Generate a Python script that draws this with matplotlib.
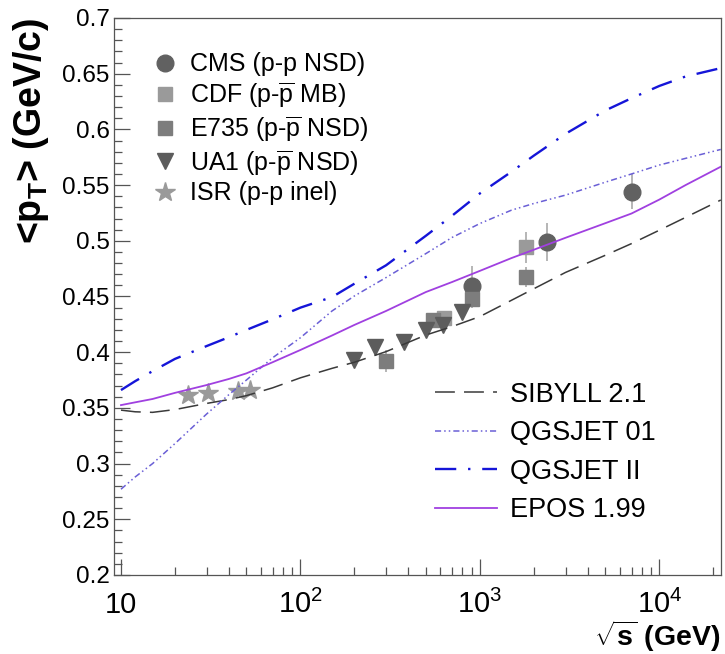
import numpy as np
import matplotlib
matplotlib.use("Agg")
import matplotlib.pyplot as plt
from matplotlib.ticker import FixedLocator, MultipleLocator, NullFormatter

plt.rcParams['font.family'] = ['Liberation Sans', 'DejaVu Sans']
plt.rcParams['mathtext.fontset'] = 'custom'
plt.rcParams['mathtext.rm'] = 'Liberation Sans'
plt.rcParams['mathtext.it'] = 'Liberation Sans:italic'
plt.rcParams['mathtext.bf'] = 'Liberation Sans:bold'
plt.rcParams['mathtext.sf'] = 'Liberation Sans'

# ---- model predictions: <pT> vs sqrt(s) ----
model_sqrt_s = [10, 12, 15, 20, 30, 40, 50, 70, 100, 150, 200, 300, 500, 700,
                1000, 1500, 2000, 3000, 5000, 7000, 10000, 14000, 22000]
sibyll_21 = [0.348, 0.3465, 0.346, 0.3485, 0.354, 0.3575, 0.361, 0.368, 0.377,
             0.3855, 0.391, 0.4005, 0.4154, 0.423, 0.432, 0.4466, 0.457, 0.4716,
             0.487, 0.4975, 0.5095, 0.521, 0.5366]
qgsjet_01 = [0.277, 0.288, 0.300, 0.318, 0.3445, 0.362, 0.375, 0.395, 0.413,
             0.437, 0.4505, 0.467, 0.4885, 0.503, 0.5155, 0.5275, 0.5335, 0.541,
             0.5526, 0.560, 0.568, 0.574, 0.582]
qgsjet_ii = [0.366, 0.374, 0.383, 0.394, 0.4055, 0.4135, 0.420, 0.4295, 0.440,
             0.4495, 0.4615, 0.478, 0.5045, 0.5225, 0.5425, 0.562, 0.5765, 0.596,
             0.617, 0.628, 0.639, 0.6475, 0.655]
epos_199 = [0.3525, 0.355, 0.358, 0.3635, 0.3705, 0.376, 0.381, 0.391, 0.402,
            0.415, 0.4245, 0.437, 0.454, 0.463, 0.473, 0.4845, 0.492, 0.5027,
            0.5158, 0.5245, 0.537, 0.550, 0.5665]

# ---- measurements ----
cms_x = [900, 2360, 7000]
cms_y = [0.4594, 0.4992, 0.5441]
cms_err = [0.018, 0.017, 0.016]

cdf_x = [630, 1800]
cdf_y = [0.4305, 0.4942]
cdf_err = [0.005, 0.014]

e735_x = [300, 546, 900, 1800]
e735_y = [0.3924, 0.4288, 0.4475, 0.4678]
e735_err = [0.010, 0.006, 0.008, 0.009]

ua1_x = [200, 260, 380, 500, 620, 790]
ua1_y = [0.393, 0.405, 0.409, 0.420, 0.4245, 0.4364]
ua1_err = [0.004, 0.006, 0.004, 0.004, 0.004, 0.004]

isr_x = [23.5, 30.6, 44.6, 52.6]
isr_y = [0.3616, 0.3636, 0.3654, 0.366]

x_ticks = [10, 100, 1000, 10000]
x_tick_labels = ['10', r'$\mathregular{10^{2}}$', r'$\mathregular{10^{3}}$',
                 r'$\mathregular{10^{4}}$']
y_ticks = [0.2, 0.25, 0.3, 0.35, 0.4, 0.45, 0.5, 0.55, 0.6, 0.65, 0.7]
y_tick_labels = ['0.2', '0.25', '0.3', '0.35', '0.4', '0.45', '0.5', '0.55',
                 '0.6', '0.65', '0.7']

fig = plt.figure(figsize=(7.25, 6.54), dpi=100)
ax = fig.add_axes([0.1579, 0.1208, 0.8362, 0.8517])

frame_col = '#555555'
err_col = '#b0b0b0'

# error bars first (no caps)
for xs, ys, es in [(cms_x, cms_y, cms_err), (cdf_x, cdf_y, cdf_err),
                   (e735_x, e735_y, e735_err), (ua1_x, ua1_y, ua1_err)]:
    ax.errorbar(xs, ys, yerr=es, fmt='none', ecolor=err_col, elinewidth=1.3,
                capsize=0, zorder=2)

h_cms, = ax.plot(cms_x, cms_y, 'o', ms=12, color='#616161', mec='#616161',
                 ls='none', zorder=3, label='CMS (p-p NSD)')
h_cdf, = ax.plot(cdf_x, cdf_y, 's', ms=10.5, color='#9a9a9a', mec='#9a9a9a',
                 ls='none', zorder=3, label=r'CDF (p-$\overline{\mathrm{p}}$ MB)')
h_e735, = ax.plot(e735_x, e735_y, 's', ms=10.5, color='#7d7d7d', mec='#7d7d7d',
                  ls='none', zorder=3, label=r'E735 (p-$\overline{\mathrm{p}}$ NSD)')
h_ua1, = ax.plot(ua1_x, ua1_y, 'v', ms=12, color='#5c5c5c', mec='#5c5c5c',
                 ls='none', zorder=3, label=r'UA1 (p-$\overline{\mathrm{p}}$ NSD)')
h_isr, = ax.plot(isr_x, isr_y, '*', ms=15, color='#9a9a9a', mec='#9a9a9a',
                 ls='none', zorder=3, label='ISR (p-p inel)')

l_sib, = ax.plot(model_sqrt_s, sibyll_21, color='#3a3a3a', lw=1.1,
                 dashes=(13, 6), zorder=4, label='SIBYLL 2.1')
l_q01, = ax.plot(model_sqrt_s, qgsjet_01, color='#6a5fd6', lw=1.1,
                 dashes=(4, 2, 1, 2, 1, 2), zorder=4, label='QGSJET 01')
l_q2, = ax.plot(model_sqrt_s, qgsjet_ii, color='#1515d8', lw=1.7,
                dashes=(9, 5, 1, 5), zorder=4, label='QGSJET II')
l_epos, = ax.plot(model_sqrt_s, epos_199, color='#a040e0', lw=1.3,
                  zorder=4, label='EPOS 1.99')

ax.set_xscale('log')
ax.set_xlim(9.2, 21980)
ax.set_ylim(0.2, 0.7)

# frame and ticks
for s in ax.spines.values():
    s.set_color(frame_col)
    s.set_linewidth(0.9)

ax.xaxis.set_major_locator(FixedLocator(x_ticks))
ax.set_xticklabels(x_tick_labels)
minor_x = [m * 10 ** d for d in range(1, 5) for m in range(2, 10)]
ax.xaxis.set_minor_locator(FixedLocator(minor_x))
ax.xaxis.set_minor_formatter(NullFormatter())
ax.set_yticks(y_ticks)
ax.set_yticklabels(y_tick_labels)
ax.yaxis.set_minor_locator(MultipleLocator(0.01))

ax.tick_params(axis='both', which='both', direction='in', color=frame_col,
               width=0.9, top=False, right=False)
ax.tick_params(axis='both', which='major', length=11.3)
ax.tick_params(axis='both', which='minor', length=5.7)
ax.tick_params(axis='x', which='major', labelsize=21, pad=27.5)
ax.tick_params(axis='y', which='major', labelsize=17.5, pad=3.5)
for lab in ax.get_xticklabels():
    lab.set_verticalalignment('baseline')

ax.set_ylabel(r'<p$_{\mathbf{T}}$> (GeV/c)', fontsize=27, fontweight='bold',
              loc='top')
ax.yaxis.set_label_coords(-0.105, 1.0)
ax.set_xlabel(r'$\sqrt{\mathbf{s}}$ (GeV)', fontsize=20.5, fontweight='bold',
              loc='right')
ax.xaxis.set_label_coords(1.0, -0.078)

leg1 = ax.legend(handles=[h_cms, h_cdf, h_e735, h_ua1, h_isr], loc='upper left',
                 bbox_to_anchor=(0.0627, 0.9381), frameon=False, fontsize=18,
                 handlelength=1.0, handletextpad=0.5, labelspacing=0.15,
                 borderpad=0, borderaxespad=0, numpoints=1)
ax.add_artist(leg1)
ax.legend(handles=[l_sib, l_q01, l_q2, l_epos], loc='upper left',
          bbox_to_anchor=(0.5287, 0.347), frameon=False, fontsize=19.5,
          handlelength=2.29, handletextpad=0.48, labelspacing=0.46,
          borderpad=0, borderaxespad=0)

fig.savefig('out.png', dpi=100)
